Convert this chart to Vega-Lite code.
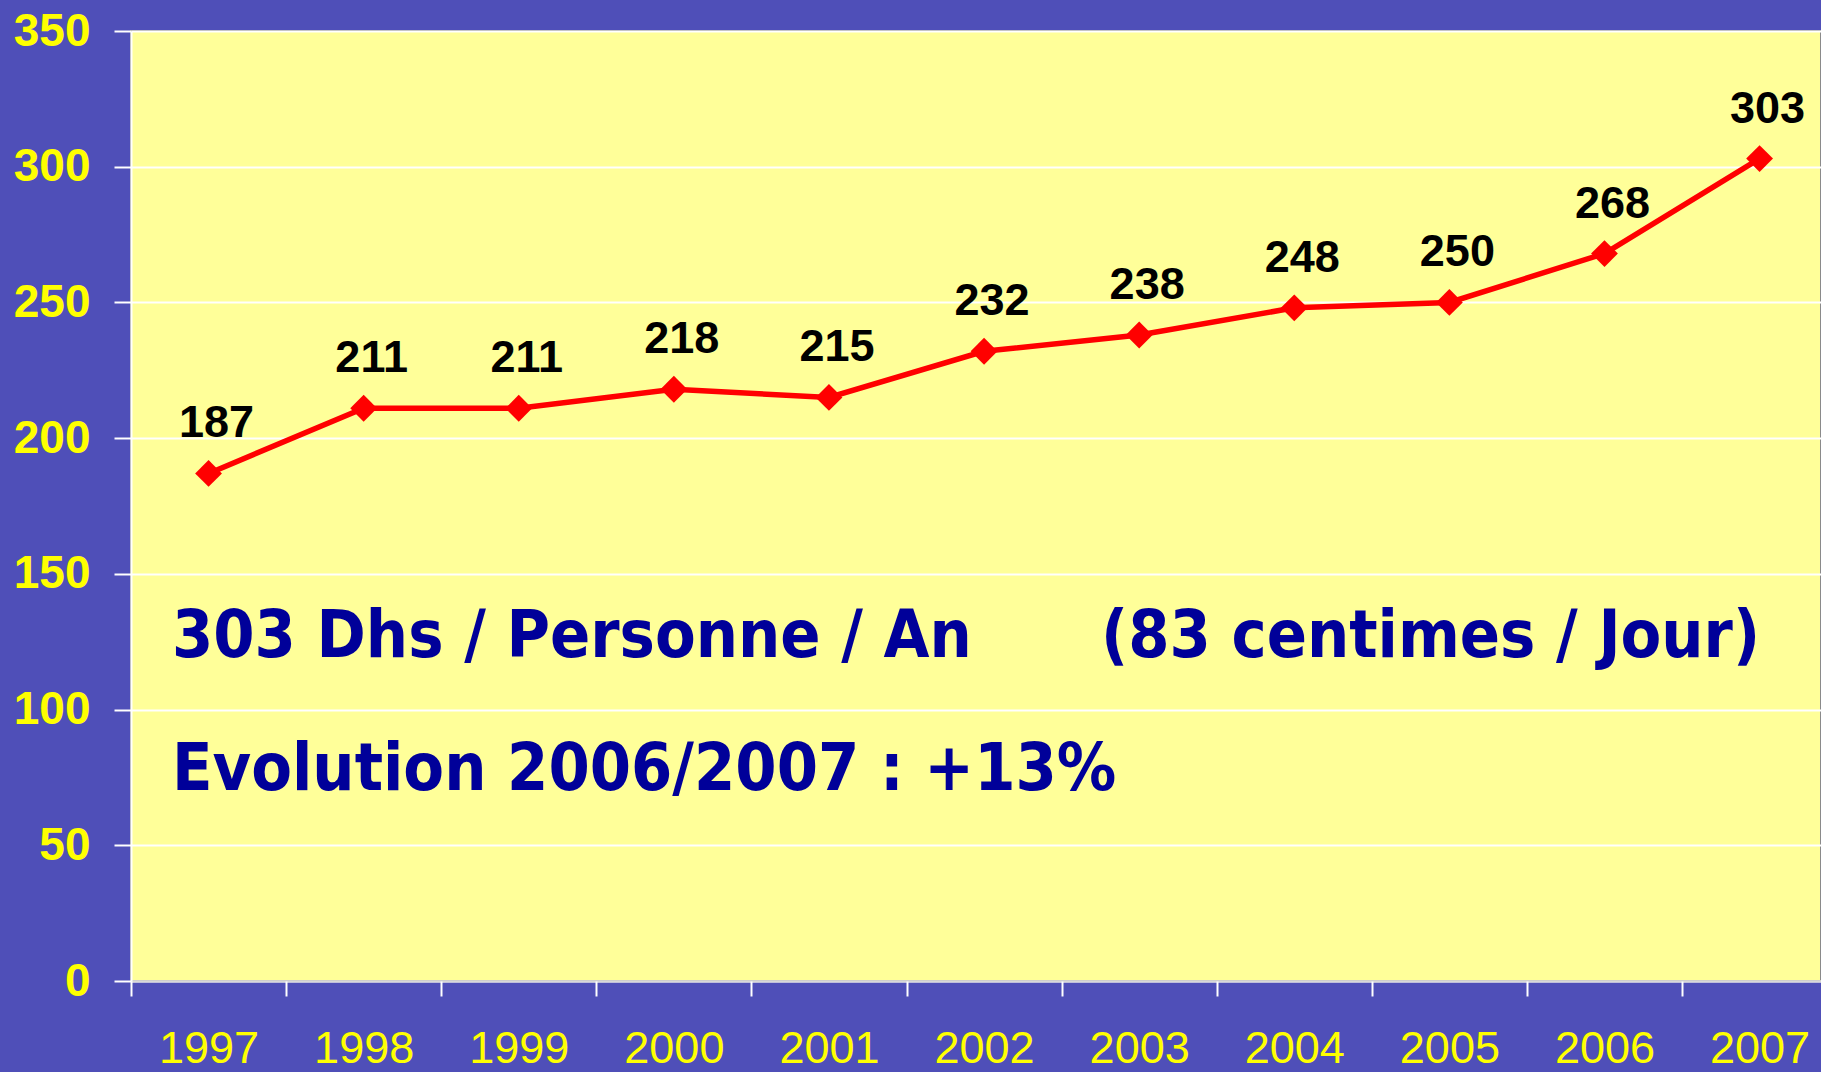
{
  "$schema": "https://vega.github.io/schema/vega-lite/v6.json",
  "autosize": "none",
  "width": 1690,
  "height": 950,
  "padding": {"left": 131, "top": 31, "right": 0, "bottom": 91},
  "background": "#4f4fb8",
  "config": {
    "view": {"fill": "#FFFF99", "stroke": "#8a8a8a", "strokeWidth": 2},
    "font": "Liberation Sans"
  },
  "datasets": {
    "series": [
      {"annee": 1997, "valeur": 187},
      {"annee": 1998, "valeur": 211},
      {"annee": 1999, "valeur": 211},
      {"annee": 2000, "valeur": 218},
      {"annee": 2001, "valeur": 215},
      {"annee": 2002, "valeur": 232},
      {"annee": 2003, "valeur": 238},
      {"annee": 2004, "valeur": 248},
      {"annee": 2005, "valeur": 250},
      {"annee": 2006, "valeur": 268},
      {"annee": 2007, "valeur": 303}
    ],
    "notes": [
      {"texte": "303 Dhs / Personne / An", "xa": 1996.764, "ya": 119.5},
      {"texte": "(83 centimes / Jour)", "xa": 2002.754, "ya": 119.5},
      {"texte": "Evolution 2006/2007 : +13%", "xa": 1996.764, "ya": 70.3}
    ]
  },
  "resolve": {"axis": {"x": "independent", "y": "independent"}},
  "layer": [
    {
      "data": {"name": "series"},
      "mark": {"type": "line", "color": "#FF0000", "strokeWidth": 5.5},
      "encoding": {
        "x": {
          "field": "annee", "type": "quantitative",
          "scale": {"domain": [1996.5, 2007.396], "nice": false, "zero": false},
          "axis": {
            "orient": "bottom", "title": null,
            "values": [1997, 1998, 1999, 2000, 2001, 2002, 2003, 2004, 2005, 2006, 2007],
            "format": "d", "ticks": false, "grid": false,
            "domain": true, "domainColor": "#d8d8d8", "domainWidth": 2,
            "labelColor": "#FFFF00", "labelFontSize": 45, "labelFont": "Liberation Sans",
            "labelFontWeight": "normal", "labelBaseline": "alphabetic",
            "labelPadding": 81, "labelFlush": false, "labelOverlap": false
          }
        },
        "y": {
          "field": "valeur", "type": "quantitative",
          "scale": {"domain": [0, 350], "nice": false},
          "axis": {
            "title": null,
            "values": [0, 50, 100, 150, 200, 250, 300, 350],
            "grid": true, "gridColor": "#FFFFFF", "gridWidth": 2, "gridOpacity": 1,
            "ticks": true, "tickColor": "#FFFFFF", "tickSize": 17, "tickWidth": 2,
            "domain": true, "domainColor": "#FFFFFF", "domainWidth": 2,
            "labelColor": "#FFFF00", "labelFontSize": 46, "labelFont": "Liberation Sans",
            "labelFontWeight": "bold", "labelPadding": 24, "labelFlush": false,
            "labelOverlap": false
          }
        }
      }
    },
    {
      "data": {"name": "series"},
      "mark": {"type": "point", "shape": "diamond", "filled": true, "color": "#FF0000", "size": 720, "opacity": 1},
      "encoding": {
        "x": {
          "field": "annee", "type": "quantitative",
          "axis": {
            "orient": "bottom", "title": null,
            "values": [1996.5, 1997.5, 1998.5, 1999.5, 2000.5, 2001.5, 2002.5, 2003.5, 2004.5, 2005.5, 2006.5],
            "labels": false, "grid": false, "domain": false,
            "ticks": true, "tickColor": "#FFFFFF", "tickSize": 15, "tickWidth": 2
          }
        },
        "y": {"field": "valeur", "type": "quantitative", "axis": null}
      }
    },
    {
      "data": {"name": "series"},
      "mark": {"type": "text", "font": "Liberation Sans", "fontWeight": "bold", "fontSize": 45, "color": "#000000", "align": "center", "baseline": "alphabetic", "dx": 8, "dy": -36},
      "encoding": {
        "x": {"field": "annee", "type": "quantitative", "axis": null},
        "y": {"field": "valeur", "type": "quantitative", "axis": null},
        "text": {"field": "valeur", "type": "quantitative", "format": "d"}
      }
    },
    {
      "data": {"name": "notes"},
      "mark": {"type": "text", "font": "DejaVu Sans Condensed", "fontWeight": "bold", "fontSize": 66, "color": "#000099", "align": "left", "baseline": "alphabetic"},
      "encoding": {
        "x": {"field": "xa", "type": "quantitative", "axis": null},
        "y": {"field": "ya", "type": "quantitative", "axis": null},
        "text": {"field": "texte", "type": "nominal"}
      }
    }
  ]
}
